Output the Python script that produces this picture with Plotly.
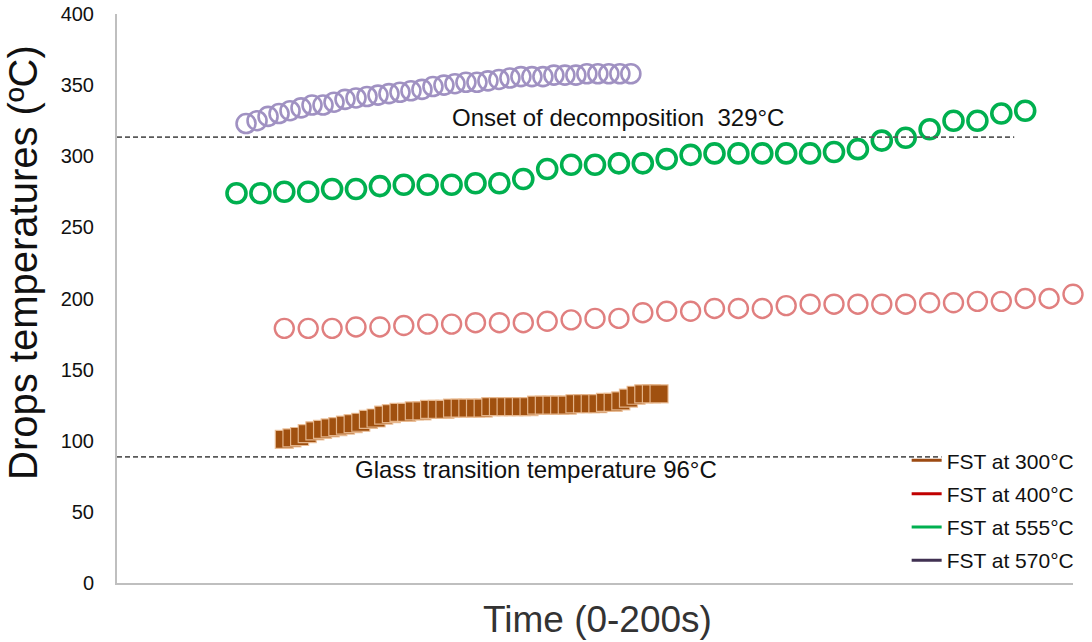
import plotly.graph_objects as go

# ---------------- data ----------------
series_names = ["FST at 300°C", "FST at 400°C", "FST at 555°C", "FST at 570°C"]
legend_colors = ["#9c4a12", "#c00000", "#00b050", "#403152"]

# FST at 300 °C (brown squares)
t_300 = [35.0, 36.6, 38.2, 39.8, 41.4, 43.0, 44.6, 46.2, 47.8, 49.4,
         51.0, 52.6, 54.2, 55.8, 57.4, 59.0, 60.6, 62.2, 63.8, 65.4,
         67.0, 68.6, 70.2, 71.8, 73.4, 75.0, 76.6, 78.2, 79.8, 81.4,
         83.0, 84.6, 86.2, 87.8, 89.4, 91.0, 92.6, 94.2, 95.8, 97.4,
         99.0, 100.6, 102.2, 103.8, 105.4, 107.0, 108.6, 110.2, 111.8, 113.4]
v_300 = [101, 102, 103, 105, 107, 108, 109, 110, 111, 112,
         113, 115, 116, 118, 119, 120, 120, 121, 121, 122,
         122, 122, 123, 123, 123, 123, 123, 124, 124, 124,
         124, 124, 124, 125, 125, 125, 125, 125, 126, 126,
         126, 126, 127, 127, 128, 130, 132, 133, 133, 133]

# FST at 400 °C (red circles)
t_400 = [35, 40, 45, 50, 55, 60, 65, 70, 75, 80, 85, 90, 95, 100, 105, 110, 115,
         120, 125, 130, 135, 140, 145, 150, 155, 160, 165, 170, 175, 180, 185, 190, 195, 200]
v_400 = [179, 179, 179, 180, 180, 181, 182, 182, 183, 183, 183, 184, 185, 186, 186, 190, 191,
         191, 193, 193, 193, 195, 196, 196, 196, 196, 196, 197, 197, 198, 198, 200, 200, 203]

# FST at 555 °C (green circles)
t_555 = [25, 30, 35, 40, 45, 50, 55, 60, 65, 70, 75, 80, 85, 90, 95, 100, 105,
         110, 115, 120, 125, 130, 135, 140, 145, 150, 155, 160, 165, 170, 175, 180, 185, 190]
v_555 = [274, 274, 275, 275, 277, 277, 279, 280, 280, 280, 281, 281, 284, 291, 294, 294, 295,
         295, 298, 301, 302, 302, 302, 302, 302, 303, 305, 311, 313, 319, 325, 325, 330, 332]

# FST at 570 °C (lavender circles)
t_570 = [27.0, 29.3, 31.6, 33.9, 36.2, 38.5, 40.8, 43.1, 45.4, 47.7,
         50.0, 52.3, 54.6, 56.9, 59.2, 61.5, 63.8, 66.1, 68.4, 70.7,
         73.0, 75.3, 77.6, 79.9, 82.2, 84.5, 86.8, 89.1, 91.4, 93.7,
         96.0, 98.3, 100.6, 102.9, 105.2, 107.5]
v_570 = [323, 325, 328, 330, 332, 334, 336, 336, 338, 340,
         341, 342, 343, 344, 345, 346, 347, 349, 350, 351,
         352, 352, 353, 354, 355, 356, 356, 356, 357, 357,
         357, 358, 358, 358, 358, 358]

# reference lines
onset_value = 313.5
onset_end = 187.7
glass_value = 88.6
glass_end = 172.5
onset_label = "Onset of decomposition\u00a0 329°C"
glass_label = "Glass transition temperature 96°C"

y_ticks = [0, 50, 100, 150, 200, 250, 300, 350, 400]

FONT = "Liberation Sans, Arial"

# ---------------- figure ----------------
fig = go.Figure()

fig.add_trace(go.Scatter(
    x=t_300, y=v_300, mode="markers", showlegend=False, cliponaxis=False,
    marker=dict(symbol="square", size=18, color="#a0500f",
                line=dict(color="rgba(235,190,150,0.9)", width=1.2))))

fig.add_trace(go.Scatter(
    x=t_400, y=v_400, mode="markers", showlegend=False, cliponaxis=False,
    marker=dict(symbol="circle-open", size=19, color="#e07f7f",
                line=dict(width=2.4))))

fig.add_trace(go.Scatter(
    x=t_555, y=v_555, mode="markers", showlegend=False, cliponaxis=False,
    marker=dict(symbol="circle-open", size=19, color="#00b04f",
                line=dict(width=3.6))))

fig.add_trace(go.Scatter(
    x=t_570, y=v_570, mode="markers", showlegend=False, cliponaxis=False,
    marker=dict(symbol="circle-open", size=19, color="#a091c2",
                line=dict(width=2.6))))

# legend entries (line samples)
for i, (name, col) in enumerate(zip(series_names, legend_colors)):
    fig.add_trace(go.Scatter(
        x=[None], y=[None], mode="lines", name=name, legendgroup=f"g{i}",
        line=dict(color=col, width=3)))

# dashed reference lines
fig.add_shape(type="line", xref="x", yref="y", x0=0, x1=onset_end,
              y0=onset_value, y1=onset_value,
              line=dict(color="#5a5a5a", width=1.8, dash="5px,3px"))
fig.add_shape(type="line", xref="x", yref="y", x0=0, x1=glass_end,
              y0=glass_value, y1=glass_value,
              line=dict(color="#5a5a5a", width=1.8, dash="5px,3px"))

fig.add_annotation(x=104.8, y=327, xref="x", yref="y", text=onset_label,
                   xanchor="center", yanchor="middle",
                   showarrow=False, font=dict(size=24, color="#111", family=FONT))
fig.add_annotation(x=87.7, y=79.5, xref="x", yref="y", text=glass_label,
                   xanchor="center", yanchor="middle",
                   showarrow=False, font=dict(size=24, color="#111", family=FONT))

# axis titles
fig.add_annotation(x=0, y=0.5624, xref="paper", yref="paper", xshift=-94,
                   xanchor="center", yanchor="middle",
                   text="Drops temperatures (ºC)", textangle=-90, showarrow=False,
                   font=dict(size=40, color="#111", family=FONT))
fig.add_annotation(x=0.503, y=0, xref="paper", yref="paper", yshift=-36,
                   xanchor="center", yanchor="middle",
                   text="Time (0-200s)", showarrow=False,
                   font=dict(size=37, color="#333", family=FONT))

fig.update_layout(
    width=1092, height=642,
    margin=dict(l=117, r=15, t=14, b=59),
    paper_bgcolor="white", plot_bgcolor="white",
    font=dict(family=FONT, color="#111"),
    xaxis=dict(range=[0, 200], showticklabels=False, ticks="", showgrid=False,
               zeroline=False, showline=True, linecolor="#bfbfbf", linewidth=2,
               automargin=False),
    yaxis=dict(range=[0, 400], tickvals=y_ticks, showgrid=False, zeroline=False,
               showline=True, linecolor="#bfbfbf", linewidth=2, ticks="",
               ticklabelstandoff=17, automargin=False,
               tickfont=dict(size=20, color="#111")),
    legend=dict(x=0.826, y=0.251, xanchor="left", yanchor="top",
                bgcolor="rgba(0,0,0,0)", tracegroupgap=3,
                traceorder="grouped",
                font=dict(size=21, color="#111", family=FONT)),
    showlegend=True,
)

fig.write_html("out.html", config={"displayModeBar": False},
               post_script="document.body.style.margin='0';")
